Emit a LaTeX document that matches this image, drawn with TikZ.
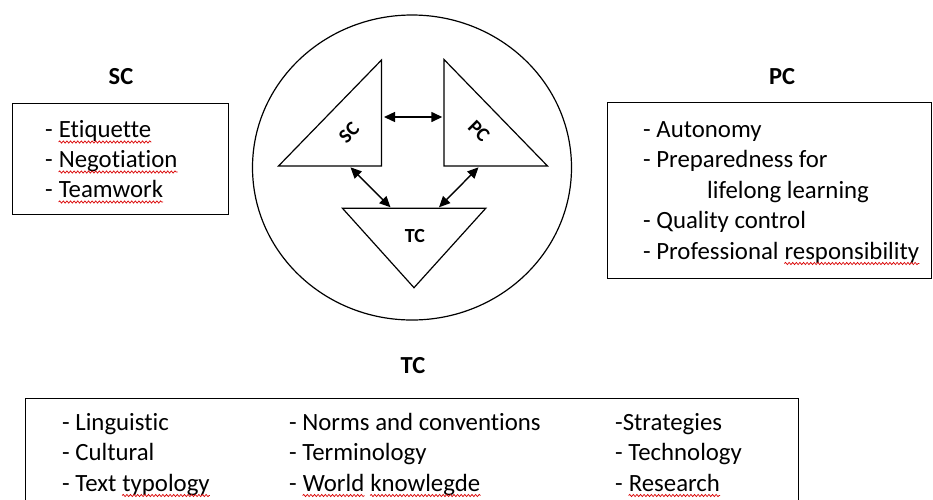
\documentclass[tikz,border=0pt]{standalone}
\usepackage{fontspec}
\setmainfont{Carlito}[Ligatures=NoCommon]
\usetikzlibrary{arrows.meta,decorations.pathmorphing,shapes.geometric}

% interword space of the current font, kept even at the end of a node
\newcommand\wordgap{\kern\fontdimen2\font}

\tikzset{
  txt/.style={anchor=base west, inner sep=0pt, font=\fontsize{24.8}{29}\selectfont},
  head/.style={anchor=base, inner sep=0pt, font=\bfseries\fontsize{24.5}{29}\selectfont},
  trilabel/.style={inner sep=0pt, font=\bfseries\fontsize{20}{23}\selectfont},
  frame/.style={draw, line width=1.2pt, inner sep=0pt, anchor=north west},
  tri/.style={draw, line width=1.2pt, line join=miter},
  link/.style={{Triangle[length=11pt,width=10pt]}-{Triangle[length=11pt,width=10pt]}, line width=1.4pt},
  squig/.style={draw=red!85!black, line width=0.7pt, decorate,
    decoration={snake, amplitude=1.1pt, segment length=3.6pt}},
}

\begin{document}
\begin{tikzpicture}[x=1pt, y=-1pt]
\path[use as bounding box, clip] (0,0) rectangle (933,499);

% ---------- central model ----------
\node[draw, line width=1.2pt, ellipse, minimum width=319pt, minimum height=305pt, inner sep=0pt]
  (model) at (412,167.5) {};

% social competence triangle
\coordinate (scA) at (278.5,166);
\coordinate (scB) at (381.5,60);
\coordinate (scC) at (381.5,166);
\draw[tri] (scA) -- (scB) -- (scC) -- cycle;
\node[trilabel, rotate=45] (sclab) at (349,132.5) {SC};

% personal competence triangle
\coordinate (pcA) at (444,59.5);
\coordinate (pcB) at (444,166);
\coordinate (pcC) at (547.5,166);
\draw[tri] (pcA) -- (pcB) -- (pcC) -- cycle;
\node[trilabel, rotate=-45] (pclab) at (479,131) {PC};

% translation competence triangle
\coordinate (tcA) at (342.5,208.3);
\coordinate (tcB) at (485.7,208.3);
\coordinate (tcC) at (414,287.7);
\draw[tri] (tcA) -- (tcB) -- (tcC) -- cycle;
\node[trilabel] (tclab) at (415,236) {TC};

% links between the three competences
\coordinate (scR) at (384,117);
\coordinate (pcL) at (442.3,117);
\coordinate (scD) at (350.5,167.3);
\coordinate (tcL) at (390.5,207.3);
\coordinate (pcD) at (478.5,167.3);
\coordinate (tcR) at (439,207.3);
\draw[link] (scR) -- (pcL);
\draw[link] (scD) -- (tcL);
\draw[link] (pcD) -- (tcR);

% ---------- SC box ----------
\node[head] (schead) at (121,84) {SC};
\node[frame, minimum width=216pt, minimum height=111.5pt] (scbox) at (11.5,102.5) {};
\node[txt] (sc1) at (45,137.5) {-\wordgap};
\node[txt] (sc1w) at (sc1.base east) {Etiquette};
\node[txt] (sc2) at (45,167.5) {-\wordgap};
\node[txt] (sc2w) at (sc2.base east) {Negotiation};
\node[txt] (sc3) at (45,197.5) {-\wordgap};
\node[txt] (sc3w) at (sc3.base east) {Teamwork};

% ---------- PC box ----------
\node[head] (pchead) at (782,84) {PC};
\node[frame, minimum width=324pt, minimum height=176pt] (pcbox) at (607,102) {};
\node[txt] (pc1) at (643,137) {- Autonomy};
\node[txt] (pc2) at (643,167.5) {- Preparedness for};
\node[txt] (pc2b) at (707,198) {lifelong learning};
\node[txt] (pc3) at (643,228.5) {- Quality control};
\node[txt] (pc4) at (643,259) {- Professional\wordgap};
\node[txt] (pc4w) at (pc4.base east) {responsibility};

% ---------- TC box ----------
\node[head] (tchead) at (413,373) {TC};
\node[frame, minimum width=772.5pt, minimum height=130pt] (tcbox) at (25,398) {};
% first column
\node[txt] (t11) at (62,430) {- Linguistic};
\node[txt] (t12) at (62,460.5) {- Cultural};
\node[txt] (t13) at (62,491) {- Text\wordgap};
\node[txt] (t13w) at (t13.base east) {typology};
% second column
\node[txt] (t21) at (289,430) {- Norms and conventions};
\node[txt] (t22) at (289,460.5) {- Terminology};
\node[txt] (t23) at (289,491) {-\wordgap};
\node[txt] (t23w) at (t23.base east) {World};
\node[txt] (t23v) at ([xshift=5.6pt]t23w.base east) {knowlegde};
% third column
\node[txt] (t31) at (615,430) {-Strategies};
\node[txt] (t32) at (615,460.5) {- Technology};
\node[txt] (t33) at (615,491) {-\wordgap};
\node[txt] (t33w) at (t33.base east) {Research};

% ---------- spelling marks ----------
\foreach \w in {sc1w,sc2w,sc3w,pc4w,t13w,t23w,t23v,t33w}
  \path[squig] ([yshift=-4.5pt]\w.base west) -- ([yshift=-4.5pt]\w.base east);
\end{tikzpicture}
\end{document}
